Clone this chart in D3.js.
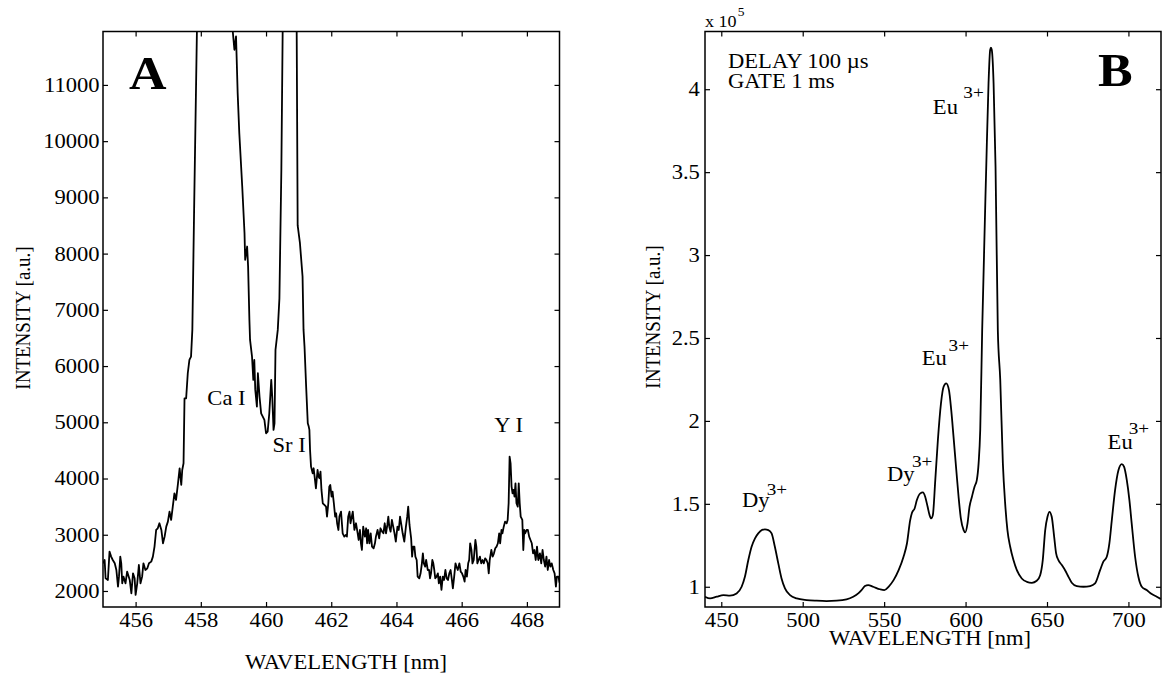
<!DOCTYPE html>
<html>
<head>
<meta charset="utf-8">
<script src="https://cdn.jsdelivr.net/npm/d3@7"></script>
<style>
  body { margin: 0; background: #fff; }
  svg text { font-family: "Liberation Serif", "Times New Roman", serif; fill: #000; }
</style>
</head>
<body>
<svg id="chart" width="1163" height="673" font-family="Liberation Serif, Times New Roman, serif"></svg>
<script>
// ---- panel A : emission spectrum 455-469 nm
const waveA = [
  455.00,455.05,455.08,455.15,455.20,455.25,455.30,455.36,455.41,455.46,455.49,455.53,455.56,455.59,455.63,455.69,
  455.74,455.82,455.87,455.92,455.97,456.00,456.05,456.10,456.15,456.20,456.24,456.30,456.36,456.41,456.48,456.53,
  456.58,456.63,456.68,456.73,456.79,456.84,456.89,456.94,456.99,457.04,457.09,457.14,457.19,457.24,457.30,457.35,
  457.40,457.43,457.47,457.50,457.55,457.60,457.65,457.70,457.74,457.80,457.88,458.05,458.50,458.90,458.98,459.03,
  459.08,459.13,459.18,459.27,459.34,459.36,459.42,459.45,459.49,459.51,459.57,459.61,459.64,459.67,459.72,459.75,
  459.80,459.85,459.90,459.95,460.00,460.05,460.10,460.16,460.19,460.23,460.26,460.29,460.36,460.41,460.47,460.51,
  460.72,460.94,460.97,461.04,461.12,461.15,461.18,461.23,461.28,461.31,461.33,461.35,461.38,461.43,461.46,461.49,
  461.53,461.58,461.61,461.64,461.67,461.70,461.74,461.79,461.84,461.87,461.91,461.94,461.97,462.01,462.04,462.08,
  462.12,462.15,462.18,462.22,462.25,462.30,462.35,462.40,462.45,462.48,462.52,462.56,462.59,462.63,462.66,462.71,
  462.76,462.81,462.84,462.88,462.91,462.94,462.98,463.03,463.07,463.10,463.13,463.17,463.21,463.25,463.30,463.34,
  463.37,463.42,463.47,463.51,463.56,463.60,463.64,463.68,463.72,463.75,463.78,463.82,463.86,463.90,463.94,463.98,
  464.03,464.07,464.11,464.15,464.19,464.24,464.29,464.33,464.36,464.40,464.45,464.48,464.51,464.55,464.58,464.62,
  464.65,464.70,464.74,464.78,464.81,464.84,464.88,464.91,464.96,465.00,465.03,465.06,465.10,465.13,465.16,465.19,
  465.23,465.27,465.30,465.34,465.38,465.42,465.46,465.50,465.54,465.58,465.62,465.66,465.70,465.73,465.77,465.81,
  465.84,465.88,465.93,465.97,466.01,466.05,466.09,466.12,466.16,466.20,466.23,466.26,466.30,466.33,466.37,466.42,
  466.45,466.48,466.52,466.56,466.60,466.64,466.68,466.72,466.76,466.80,466.83,466.86,466.91,466.95,466.99,467.03,
  467.07,467.11,467.15,467.18,467.22,467.25,467.29,467.33,467.38,467.41,467.44,467.47,467.50,467.53,467.56,467.59,
  467.62,467.65,467.68,467.72,467.75,467.78,467.81,467.86,467.89,467.92,467.95,467.99,468.03,468.07,468.11,468.15,
  468.19,468.23,468.27,468.31,468.35,468.40,468.44,468.48,468.52,468.56,468.60,468.64,468.68,468.72,468.76,468.81,
  468.85,468.89,468.92,468.97,469.00
];
const intA = [
  2492,2551,2225,2196,2700,2611,2551,2492,2373,2077,2255,2611,2492,2136,2255,2136,
  2344,2196,1958,2314,2225,1929,2136,2462,2136,2255,2492,2373,2403,2492,2522,2611,
  2789,3085,3115,3204,3085,2848,2966,3144,3233,3411,3263,3500,3737,3619,3915,4182,
  3886,4152,4271,5427,5427,5872,6109,6169,6643,9000,11950,22000,26000,16000,11950,11625,
  11862,10854,10142,9193,8363,7889,8126,7770,6821,6465,6169,5754,6109,5576,5279,5872,
  5457,5160,5101,5042,4805,4834,5160,5754,5457,4864,4983,6287,6643,7200,9500,11950,
  30000,11950,8500,8185,7592,6643,6347,5635,4983,4923,4864,4508,4212,4093,4182,4034,
  3826,4152,4034,4004,4123,3797,3560,3530,3500,3322,3560,3856,3886,3678,3767,3560,
  3322,3382,3204,3085,3322,3411,3026,2966,2996,2966,3322,3411,3204,3322,3411,3085,
  3204,3026,2907,3085,2848,2729,3144,2966,3115,2848,3085,2848,3026,2789,2759,2848,
  2966,3085,2937,3115,3055,3026,3204,3026,3174,3322,3144,3055,3263,3144,3026,2877,
  3144,3085,3322,3174,3026,2877,3144,3322,3500,3174,2937,2611,2789,2789,2611,2551,
  2255,2225,2314,2492,2670,2492,2433,2551,2373,2373,2225,2314,2551,2492,2373,2225,
  2255,2314,2136,2255,2018,2255,2196,2373,2225,2196,2314,2373,2196,2047,2255,2492,
  2433,2373,2492,2344,2314,2255,2166,2373,2255,2492,2551,2848,2729,2492,2551,2907,
  2789,2492,2551,2611,2492,2551,2492,2581,2551,2492,2314,2551,2729,2611,2670,2759,
  2789,2848,3026,2848,3085,3026,3144,3233,3204,3263,3560,4390,4271,3856,3737,3797,
  3678,3915,3560,3500,3915,3560,3322,3263,2729,3085,3026,3085,3085,2966,2907,2848,
  2670,2729,2551,2789,2551,2670,2492,2729,2551,2433,2611,2373,2551,2433,2492,2373,
  2314,2077,2255,2255,2150
];
const xTicksA = [456, 458, 460, 462, 464, 466, 468];
const yTicksA = [2000, 3000, 4000, 5000, 6000, 7000, 8000, 9000, 10000, 11000];
const labelsA = [
  { text: 'Ca I', wave: 458.20, value: 5309 },
  { text: 'Sr I', wave: 460.20, value: 4473 },
  { text: 'Y I',  wave: 467.00, value: 4829 }
];

// ---- panel B : luminescence spectrum 440-720 nm, intensity in units of 1e5
const waveB = [
  440.0,443.1,447.2,451.3,455.3,459.4,462.5,464.5,466.6,468.6,470.7,472.7,474.8,476.8,478.9,480.9,
  482.9,485.0,487.0,489.1,492.2,496.3,502.4,508.5,514.6,520.8,526.9,531.0,534.1,536.1,538.2,540.2,
  543.3,547.4,550.1,552.7,555.8,558.9,561.9,564.0,566.0,567.1,568.7,570.1,572.2,573.8,575.2,576.7,
  577.9,578.9,579.9,581.4,583.0,584.9,586.5,588.1,589.8,591.2,592.6,594.3,595.7,597.1,598.8,599.8,
  601.2,602.4,603.9,605.5,606.9,608.0,609.0,610.2,612.7,614.1,615.1,615.6,616.1,617.2,618.4,619.8,
  621.3,622.9,624.3,625.7,627.4,629.4,631.5,634.5,637.6,640.7,643.7,645.8,647.4,648.9,650.3,651.5,
  652.9,654.4,655.6,657.0,659.1,661.1,663.2,665.2,668.3,672.4,676.5,679.5,682.6,684.6,686.7,688.3,
  689.8,691.8,693.9,695.9,697.3,699.0,700.6,702.0,704.1,706.1,708.2,711.2,714.3,717.4,720.0
];
const intB = [
  0.940,0.930,0.940,0.950,0.946,0.960,1.000,1.060,1.161,1.241,1.292,1.322,1.342,1.346,1.342,1.322,
  1.241,1.141,1.050,0.990,0.950,0.930,0.920,0.916,0.914,0.916,0.924,0.940,0.960,0.980,1.004,1.010,
  1.000,0.985,0.980,1.000,1.040,1.100,1.181,1.261,1.402,1.446,1.472,1.523,1.563,1.569,1.543,1.482,
  1.432,1.412,1.432,1.643,1.885,2.106,2.206,2.226,2.186,2.065,1.905,1.704,1.543,1.412,1.342,1.328,
  1.382,1.482,1.543,1.603,1.643,1.744,1.945,2.548,3.533,4.036,4.237,4.250,4.237,4.036,3.533,2.548,
  2.246,1.744,1.503,1.342,1.241,1.161,1.100,1.050,1.030,1.024,1.036,1.070,1.161,1.342,1.422,1.452,
  1.422,1.301,1.201,1.161,1.131,1.100,1.060,1.024,1.004,1.000,1.004,1.020,1.100,1.151,1.181,1.261,
  1.402,1.583,1.704,1.740,1.724,1.643,1.523,1.382,1.181,1.060,1.000,0.980,0.956,0.940,0.926
];
const xTicksB = [450, 500, 550, 600, 650, 700];
const yTicksB = [1, 1.5, 2, 2.5, 3, 3.5, 4];
const labelsB = [
  { text: 'Dy', sup: '3+', wave: 462.7, value: 1.481, dx: -2.5, dy: -12 },
  { text: 'Dy', sup: '3+', wave: 551.7, value: 1.637, dx: -2.3, dy: -14 },
  { text: 'Eu', sup: '3+', wave: 573.1, value: 2.337, dx: 1.5, dy: -14 },
  { text: 'Eu', sup: '3+', wave: 579.9, value: 3.851, dx: 4.8, dy: -16 },
  { text: 'Eu', sup: '3+', wave: 687.2, value: 1.830, dx: -3.5, dy: -15 }
];

const svg = d3.select('#chart');
const SERIF = '"Liberation Serif", "Times New Roman", serif';
const SX = 1.13;   // the glyphs in the original are a little wider than tall
const FONT = 20;

function label(g, x, y, text, size, sup, dx, dy) {
  const t = g.append('text')
    .attr('transform', `translate(${x},${y}) scale(${SX},1)`)
    .attr('font-family', SERIF)
    .attr('font-size', size)
    .text(text);
  if (sup) t.append('tspan').attr('dx', dx).attr('dy', dy).attr('font-size', 17).text(sup);
  return t;
}

function drawPanel(p) {
  const g = svg.append('g');
  const [x0, x1] = p.x.range();
  const [y0, y1] = p.y.range();

  g.append('clipPath').attr('id', p.id)
    .append('rect').attr('x', x0).attr('y', y1).attr('width', x1 - x0).attr('height', y0 - y1);

  const line = d3.line()
    .x(d => p.x(d[0]))
    .y(d => p.y(d[1]))
    .curve(p.curve);

  g.append('path')
    .datum(d3.zip(p.waves, p.values))
    .attr('clip-path', `url(#${p.id})`)
    .attr('fill', 'none')
    .attr('stroke', '#000')
    .attr('stroke-width', 1.8)
    .attr('stroke-linejoin', 'round')
    .attr('d', line);

  const tk = 5;
  const style = sel => {
    sel.select('.domain').remove();
    sel.attr('font-size', FONT).attr('font-family', SERIF);
    sel.selectAll('.tick line').attr('stroke-width', 1.2);
    sel.selectAll('.tick text')
      .attr('font-family', SERIF)
      .attr('transform', `scale(${SX},1)`);
  };

  g.append('g').attr('transform', `translate(0,${y0})`)
    .call(d3.axisBottom(p.x).tickValues(p.xTicks).tickSizeInner(-tk).tickSizeOuter(0).tickPadding(6))
    .call(style);
  g.append('g').attr('transform', `translate(0,${y1})`)
    .call(d3.axisTop(p.x).tickValues(p.xTicks).tickSizeInner(-tk).tickSizeOuter(0).tickFormat(''))
    .call(style);
  g.append('g').attr('transform', `translate(${x0},0)`)
    .call(d3.axisLeft(p.y).tickValues(p.yTicks).tickSizeInner(-tk).tickSizeOuter(0).tickPadding(p.yPad).tickFormat(d => String(d)))
    .call(style);
  g.append('g').attr('transform', `translate(${x1},0)`)
    .call(d3.axisRight(p.y).tickValues(p.yTicks).tickSizeInner(-tk).tickSizeOuter(0).tickFormat(''))
    .call(style);

  g.append('rect')
    .attr('x', x0).attr('y', y1).attr('width', x1 - x0).attr('height', y0 - y1)
    .attr('fill', 'none').attr('stroke', '#000').attr('stroke-width', 1.5);

  // axis titles
  label(g, p.xTitle[0], p.xTitle[1], 'WAVELENGTH [nm]', FONT).attr('text-anchor', 'middle');
  g.append('text')
    .attr('transform', `translate(${p.yTitle[0]},${p.yTitle[1]}) scale(${SX},1) rotate(-90)`)
    .attr('text-anchor', 'middle')
    .attr('font-family', SERIF)
    .attr('font-size', 19)
    .text('INTENSITY [a.u.]');

  // panel letter
  label(g, x0 + p.letter[0], y1 + p.letter[1], p.name, 46).attr('font-weight', 'bold');

  p.labels.forEach(d => label(g, p.x(d.wave), p.y(d.value), d.text, FONT, d.sup, d.dx, d.dy));
  return g;
}

// panel A
const xA = d3.scaleLinear().domain([455, 469]).range([103, 559.5]);
const yA = d3.scaleLinear().domain([1715, 11950]).range([607, 31.5]);
drawPanel({
  id: 'clipA', name: 'A', x: xA, y: yA, waves: waveA, values: intA,
  xTicks: xTicksA, yTicks: yTicksA, yPad: 3, curve: d3.curveLinear,
  labels: labelsA, xTitle: [346, 669], yTitle: [30, 318], letter: [26, 57]
});

// panel B
const xB = d3.scaleLinear().domain([440, 720]).range([705, 1161]);
const yB = d3.scaleLinear().domain([0.878, 4.348]).range([607, 31.5]);
const gB = drawPanel({
  id: 'clipB', name: 'B', x: xB, y: yB, waves: waveB, values: intB,
  xTicks: xTicksB, yTicks: yTicksB, yPad: 4.5, curve: d3.curveMonotoneX,
  labels: labelsB, xTitle: [930, 645], yTitle: [660, 317], letter: [393, 54]
});

// exponent and acquisition settings
const ex = label(gB, 705, 27, 'x 10', 16);
ex.append('tspan').attr('dx', 1).attr('dy', -11).attr('font-size', 12).text('5');
label(gB, 728, 68, 'DELAY 100 \u00b5s', FONT);
label(gB, 728, 88, 'GATE 1 ms', FONT);
</script>
</body>
</html>
